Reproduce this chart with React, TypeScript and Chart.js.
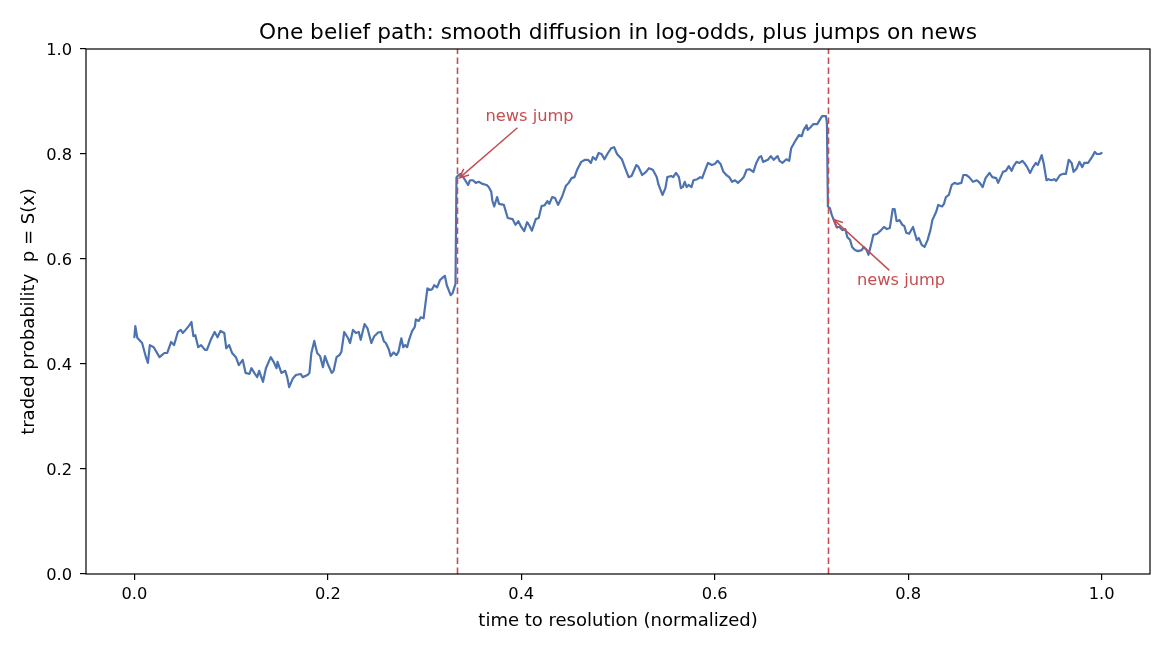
import { useEffect, useRef } from "react";
import { Chart, registerables } from "chart.js";

Chart.register(...registerables);

// Time axis (normalized time to resolution) of the simulated belief path
const timeToResolution: number[] = [
  // early drift
  0.000, 0.001, 0.003, 0.008, 0.012, 0.014, 0.016, 0.020, 0.026, 0.031, 0.034, 0.038, 0.041, 0.045, 0.048, 0.050, 0.053, 0.057, 0.059, 0.061,
  0.063, 0.066, 0.069, 0.073, 0.075, 0.079, 0.083, 0.086, 0.089, 0.093, 0.095, 0.098, 0.101, 0.105, 0.108, 0.112, 0.115, 0.119, 0.121, 0.124,
  0.127, 0.129, 0.133, 0.136, 0.141, 0.144, 0.147, 0.148, 0.152, 0.156, 0.158, 0.160, 0.164, 0.167, 0.172, 0.174, 0.179, 0.181, 0.183, 0.186,
  0.189, 0.192, 0.195, 0.197, 0.200, 0.204, 0.206, 0.209, 0.212, 0.214, 0.217, 0.221, 0.223, 0.226, 0.229, 0.232, 0.234, 0.238, 0.241, 0.245, 0.248,
  // run-up to the first news
  0.252, 0.255, 0.258, 0.260, 0.263, 0.265, 0.268, 0.271, 0.273, 0.276, 0.278, 0.280, 0.282, 0.284, 0.287, 0.290, 0.291, 0.294, 0.296, 0.299,
  0.301, 0.303, 0.306, 0.308, 0.310, 0.313, 0.316, 0.319, 0.321, 0.323, 0.327, 0.329, 0.331, 0.332,
  // after the upward jump
  0.333, 0.334, 0.337, 0.340, 0.342, 0.345, 0.347, 0.350, 0.353, 0.356, 0.360, 0.364, 0.366, 0.369, 0.370, 0.372, 0.375, 0.377, 0.382,
  0.386, 0.391, 0.394, 0.397, 0.400, 0.403, 0.406, 0.408, 0.411, 0.415, 0.418, 0.421, 0.424, 0.427, 0.429, 0.432, 0.435, 0.438, 0.442, 0.446,
  0.449, 0.452, 0.455, 0.458, 0.462, 0.466, 0.469, 0.472, 0.474, 0.477, 0.480, 0.483, 0.486, 0.489, 0.493, 0.496, 0.499, 0.504, 0.507, 0.511, 0.514,
  0.519, 0.521, 0.525, 0.529, 0.532, 0.536, 0.540, 0.542, 0.546, 0.549, 0.551, 0.555, 0.557, 0.560, 0.563, 0.565, 0.567, 0.569, 0.571, 0.573,
  0.576, 0.578, 0.582, 0.585, 0.587, 0.589, 0.593, 0.597, 0.600, 0.603, 0.606, 0.609, 0.612, 0.615, 0.618, 0.621, 0.624, 0.628, 0.630, 0.633,
  0.636, 0.640, 0.643, 0.646,
  0.648, 0.650, 0.655, 0.658, 0.661, 0.665, 0.667, 0.670, 0.674, 0.677, 0.679, 0.684, 0.687, 0.690, 0.692, 0.695, 0.696, 0.699, 0.702, 0.706,
  0.708, 0.711, 0.715, 0.716,
  // after the downward jump
  0.717, 0.719, 0.721, 0.726, 0.729, 0.732, 0.735, 0.737, 0.740, 0.742, 0.745, 0.748, 0.752, 0.754, 0.757, 0.759, 0.762, 0.764, 0.768, 0.772, 0.775,
  0.778, 0.781, 0.784, 0.786, 0.788, 0.791, 0.794, 0.796, 0.798, 0.801, 0.805, 0.807, 0.809, 0.811, 0.814, 0.817, 0.820, 0.823, 0.825, 0.829,
  0.831, 0.835, 0.837, 0.839, 0.842, 0.845, 0.848, 0.851, 0.855, 0.857, 0.860, 0.863, 0.867, 0.871, 0.874, 0.877, 0.880, 0.884, 0.887, 0.891,
  0.893, 0.898, 0.901, 0.904,
  0.907, 0.909, 0.912, 0.915, 0.918, 0.920, 0.923, 0.926, 0.929, 0.932, 0.934, 0.938, 0.940, 0.943, 0.945, 0.948, 0.951, 0.953, 0.957, 0.960,
  0.963, 0.966, 0.969, 0.971, 0.974, 0.977, 0.980, 0.982, 0.986, 0.990, 0.993, 0.995, 0.998, 1.000,
];

// Traded probability p = S(x) at each time above
const tradedProbability: number[] = [
  0.451, 0.472, 0.450, 0.440, 0.413, 0.402, 0.436, 0.432, 0.413, 0.421, 0.421, 0.442, 0.436, 0.461, 0.465, 0.459, 0.465, 0.474, 0.480, 0.453,
  0.455, 0.432, 0.436, 0.427, 0.427, 0.446, 0.461, 0.451, 0.463, 0.459, 0.430, 0.436, 0.421, 0.413, 0.398, 0.408, 0.383, 0.381, 0.392, 0.383,
  0.375, 0.387, 0.366, 0.392, 0.413, 0.404, 0.392, 0.404, 0.383, 0.387, 0.375, 0.356, 0.373, 0.379, 0.381, 0.375, 0.379, 0.383, 0.421, 0.444,
  0.421, 0.415, 0.394, 0.415, 0.400, 0.383, 0.387, 0.413, 0.417, 0.423, 0.461, 0.449, 0.440, 0.465, 0.459, 0.461, 0.446, 0.476, 0.468, 0.440, 0.453,
  0.460, 0.461, 0.443, 0.440, 0.428, 0.415, 0.422, 0.417, 0.423, 0.449, 0.432, 0.436, 0.432, 0.446, 0.462, 0.471, 0.485, 0.482, 0.489, 0.487,
  0.516, 0.544, 0.541, 0.543, 0.550, 0.546, 0.560, 0.565, 0.568, 0.550, 0.531, 0.535, 0.547, 0.552,
  0.755, 0.758, 0.762, 0.756, 0.750, 0.741, 0.750, 0.750, 0.745, 0.747, 0.743, 0.741, 0.738, 0.728, 0.712, 0.700, 0.718, 0.705, 0.703,
  0.678, 0.676, 0.665, 0.672, 0.661, 0.653, 0.670, 0.665, 0.654, 0.676, 0.678, 0.701, 0.702, 0.710, 0.705, 0.718, 0.716, 0.703, 0.718, 0.739,
  0.745, 0.754, 0.756, 0.771, 0.785, 0.789, 0.789, 0.783, 0.794, 0.789, 0.802, 0.800, 0.790, 0.800, 0.811, 0.813, 0.800, 0.790, 0.775, 0.756, 0.758,
  0.779, 0.776, 0.760, 0.766, 0.773, 0.770, 0.756, 0.741, 0.722, 0.735, 0.756, 0.758, 0.756, 0.764, 0.756, 0.735, 0.737, 0.747, 0.737, 0.741,
  0.737, 0.750, 0.752, 0.756, 0.754, 0.764, 0.783, 0.779, 0.781, 0.787, 0.781, 0.766, 0.760, 0.756, 0.747, 0.750, 0.745, 0.752, 0.756, 0.770,
  0.771, 0.766, 0.783, 0.794,
  0.796, 0.785, 0.789, 0.796, 0.789, 0.796, 0.787, 0.783, 0.790, 0.787, 0.811, 0.827, 0.836, 0.834, 0.846, 0.855, 0.846, 0.851, 0.857, 0.857,
  0.863, 0.872, 0.872, 0.859,
  0.700, 0.697, 0.684, 0.661, 0.661, 0.655, 0.657, 0.642, 0.636, 0.623, 0.617, 0.615, 0.617, 0.623, 0.617, 0.608, 0.630, 0.646, 0.648, 0.655, 0.661,
  0.657, 0.659, 0.695, 0.695, 0.672, 0.674, 0.665, 0.663, 0.650, 0.648, 0.661, 0.648, 0.636, 0.640, 0.627, 0.623, 0.636, 0.655, 0.674, 0.690,
  0.703, 0.700, 0.705, 0.718, 0.722, 0.741, 0.745, 0.743, 0.745, 0.760, 0.760, 0.756, 0.747, 0.750, 0.745, 0.737, 0.754, 0.764, 0.756, 0.754,
  0.745, 0.766, 0.768, 0.777,
  0.768, 0.777, 0.785, 0.783, 0.787, 0.783, 0.775, 0.764, 0.775, 0.783, 0.779, 0.798, 0.783, 0.750, 0.752, 0.750, 0.752, 0.749, 0.760, 0.762,
  0.762, 0.789, 0.783, 0.766, 0.772, 0.785, 0.775, 0.783, 0.783, 0.794, 0.804, 0.800, 0.800, 0.802,
];

// Times at which news arrives
const newsTimes: number[] = [1 / 3, 0.717];
// Price level each news arrow points at, and where its caption sits (data units)
const newsArrowTips: [number, number][] = [[1 / 3, 0.75], [0.72, 0.68]];
const newsCaptionAnchors: [number, number][] = [[0.363, 0.862], [0.747, 0.55]];
const newsCaption = "news jump";

const xTickValues: number[] = [0, 0.2, 0.4, 0.6, 0.8, 1.0];
const yTickValues: number[] = [0, 0.2, 0.4, 0.6, 0.8, 1.0];

const TITLE = "One belief path: smooth diffusion in log-odds, plus jumps on news";
const X_LABEL = "time to resolution (normalized)";
const Y_LABEL = "traded probability  p = S(x)";

const FONT = "DejaVu Sans";
const PATH_BLUE = "#4C72B0";
const NEWS_RED = "#C44E52";

const decorations = {
  id: "decorations",
  afterDatasetsDraw(chart: any) {
    const { ctx, chartArea: area, scales } = chart;
    const xs = scales.x;
    const ys = scales.y;
    ctx.save();

    // dashed markers at the news times
    ctx.strokeStyle = NEWS_RED;
    ctx.lineWidth = 1.6;
    ctx.setLineDash([6.5, 3.5]);
    for (const t of newsTimes) {
      const px = Math.round(xs.getPixelForValue(t)) + 0.5;
      ctx.beginPath();
      ctx.moveTo(px, area.bottom);
      ctx.lineTo(px, area.top);
      ctx.stroke();
    }
    ctx.setLineDash([]);

    // captions with arrows
    ctx.font = `16.25px "${FONT}"`;
    ctx.fillStyle = NEWS_RED;
    ctx.textAlign = "left";
    ctx.textBaseline = "alphabetic";
    const w = ctx.measureText(newsCaption).width;
    newsCaptionAnchors.forEach((anchor, i) => {
      const lx = xs.getPixelForValue(anchor[0]);
      const by = ys.getPixelForValue(anchor[1]);
      ctx.fillText(newsCaption, lx, by);

      // text box
      const top = by - 12.4;
      const bottom = by + 3.9;
      const cx = lx + w / 2;
      const cy = (top + bottom) / 2;
      const tip = newsArrowTips[i];
      const xPix = xs.getPixelForValue(tip[0]);
      const yPix = ys.getPixelForValue(tip[1]);
      const dx = xPix - cx;
      const dy = yPix - cy;
      const len = Math.hypot(dx, dy);
      const ux = dx / len;
      const uy = dy / len;
      // leave the text box, then shrink both ends a little
      const sx = Math.abs(ux) > 1e-6 ? (w / 2) / Math.abs(ux) : Infinity;
      const sy = Math.abs(uy) > 1e-6 ? ((bottom - top) / 2) / Math.abs(uy) : Infinity;
      const exit = Math.min(sx, sy) + 3.6;
      const x0 = cx + ux * exit;
      const y0 = cy + uy * exit;
      const x1 = xPix - ux * 3.6;
      const y1 = yPix - uy * 3.6;

      ctx.strokeStyle = NEWS_RED;
      ctx.lineWidth = 1.5;
      ctx.lineCap = "butt";
      ctx.beginPath();
      ctx.moveTo(x0, y0);
      ctx.lineTo(x1, y1);
      ctx.stroke();

      const ang = Math.atan2(y1 - y0, x1 - x0);
      const head = 10;
      const spread = 0.42;
      ctx.beginPath();
      ctx.moveTo(x1 - head * Math.cos(ang - spread), y1 - head * Math.sin(ang - spread));
      ctx.lineTo(x1, y1);
      ctx.lineTo(x1 - head * Math.cos(ang + spread), y1 - head * Math.sin(ang + spread));
      ctx.stroke();
    });
    ctx.restore();
  },
  afterDraw(chart: any) {
    const { ctx, chartArea: area } = chart;
    ctx.save();
    // axes frame
    ctx.strokeStyle = "#000";
    ctx.lineWidth = 1.2;
    ctx.strokeRect(area.left, area.top, area.right - area.left, area.bottom - area.top);

    const midX = (area.left + area.right) / 2;
    ctx.fillStyle = "#000";
    ctx.textAlign = "center";
    ctx.textBaseline = "alphabetic";

    ctx.font = `21.7px "${FONT}"`;
    ctx.fillText(TITLE, midX, area.top - 10.5);

    ctx.font = `18px "${FONT}"`;
    ctx.fillText(X_LABEL, midX, area.bottom + 51.5);

    ctx.save();
    ctx.translate(34, (area.top + area.bottom) / 2);
    ctx.rotate(-Math.PI / 2);
    ctx.fillText(Y_LABEL, 0, 0);
    ctx.restore();

    ctx.restore();
  },
};

export default function App() {
  const canvasRef = useRef<HTMLCanvasElement | null>(null);

  useEffect(() => {
    const canvas = canvasRef.current;
    if (!canvas) return;

    const points = timeToResolution.map((t, i) => ({ x: t, y: tradedProbability[i] }));
    const tickFont = { family: FONT, size: 16.25 };
    const axisGrid = {
      display: true,
      drawOnChartArea: false,
      drawTicks: true,
      tickLength: 6,
      color: "#000",
      lineWidth: 1.2,
    };

    const chart = new Chart(canvas, {
      type: "line",
      data: {
        datasets: [
          {
            data: points,
            borderColor: PATH_BLUE,
            borderWidth: 2.2,
            borderJoinStyle: "round",
            borderCapStyle: "round",
            pointRadius: 0,
            tension: 0,
            fill: false,
          },
        ],
      },
      options: {
        animation: false,
        responsive: false,
        events: [],
        layout: { padding: { top: 49, right: 20, left: 0, bottom: 0 } },
        plugins: {
          legend: { display: false },
          tooltip: { enabled: false },
          title: { display: false },
        },
        scales: {
          x: {
            type: "linear",
            min: -0.05,
            max: 1.05,
            afterBuildTicks: (scale: any) => {
              scale.ticks = xTickValues.map((v) => ({ value: v }));
            },
            afterFit: (scale: any) => {
              scale.height = 76;
            },
            ticks: {
              callback: (v: any) => Number(v).toFixed(1),
              font: tickFont,
              color: "#000",
              padding: 5,
              maxRotation: 0,
              autoSkip: false,
            },
            grid: axisGrid,
            border: { display: false },
          },
          y: {
            type: "linear",
            min: 0,
            max: 1,
            afterBuildTicks: (scale: any) => {
              scale.ticks = yTickValues.map((v) => ({ value: v }));
            },
            afterFit: (scale: any) => {
              scale.width = 86;
            },
            ticks: {
              callback: (v: any) => Number(v).toFixed(1),
              font: tickFont,
              color: "#000",
              padding: 8,
              labelOffset: 1.5,
              autoSkip: false,
            },
            grid: axisGrid,
            border: { display: false },
          },
        },
      },
      plugins: [decorations],
    } as any);

    return () => chart.destroy();
  }, []);

  return (
    <div style={{ position: "absolute", left: 0, top: 0, width: 1170, height: 650, background: "#fff" }}>
      <canvas ref={canvasRef} width={1170} height={650} style={{ display: "block" }} />
    </div>
  );
}
